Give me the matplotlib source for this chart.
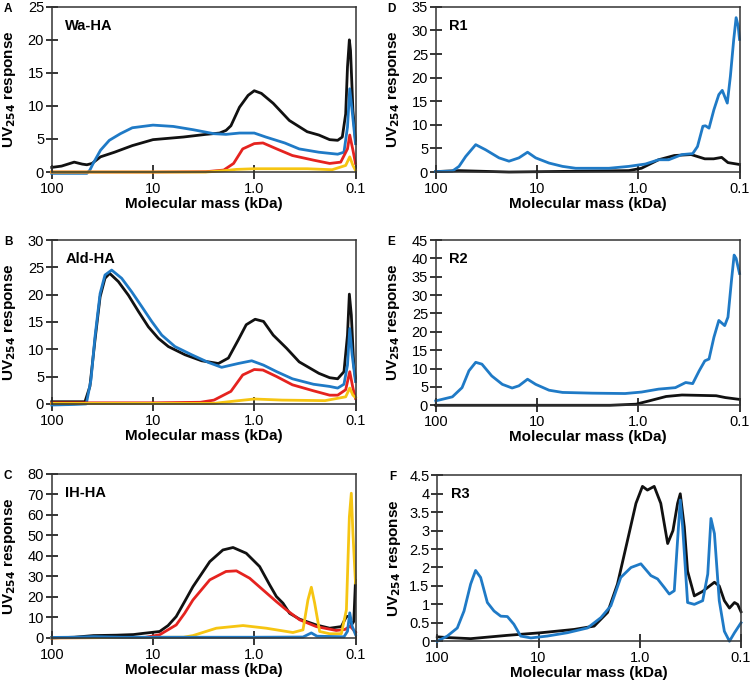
import matplotlib
matplotlib.use("Agg")
import matplotlib.pyplot as plt
from matplotlib.ticker import FixedLocator, FixedFormatter, FormatStrFormatter

plt.rcParams['font.family'] = ['Liberation Sans', 'DejaVu Sans']

BLACK = "#111111"
BLUE = "#1f7ac6"
RED = "#e5231f"
YELLOW = "#f6c512"

# ---- data (molecular mass in kDa, UV254 response) ----
# A: Wa-HA
wa_black_x = [100, 80, 60, 50, 45, 40, 33, 24, 16, 10, 5, 3, 2.2, 1.9, 1.7, 1.4, 1.15, 1.0, 0.85, 0.65,
              0.45, 0.3, 0.23, 0.18, 0.15, 0.135, 0.125, 0.12, 0.115, 0.112, 0.106, 0.1]
wa_black_y = [0.7, 0.9, 1.5, 1.2, 1.1, 1.3, 2.3, 3.0, 4.0, 4.9, 5.3, 5.7, 5.9, 6.3, 7.0, 9.8, 11.6, 12.3, 11.9, 10.4,
              7.8, 6.1, 5.6, 4.9, 4.8, 5.3, 8.8, 15.9, 20.0, 18.4, 9.3, 4.8]
wa_blue_x = [100, 60, 45, 42, 39, 33, 27, 21, 16, 10, 6.3, 4, 2.5, 1.9, 1.4, 1.0, 0.77, 0.5, 0.36,
             0.23, 0.15, 0.13, 0.12, 0.114, 0.108, 0.1]
wa_blue_y = [-0.2, -0.2, -0.2, 0.3, 1.3, 3.3, 4.8, 5.8, 6.7, 7.1, 6.9, 6.4, 5.8, 5.7, 5.9, 5.9, 5.3, 4.4, 3.5,
             3.0, 2.7, 3.0, 6.8, 12.6, 9.3, 4.3]
wa_red_x = [100, 10, 3, 2, 1.6, 1.3, 1.0, 0.82, 0.6, 0.42, 0.26, 0.18, 0.14, 0.12, 0.114, 0.106, 0.1]
wa_red_y = [0, 0, 0.05, 0.3, 1.3, 3.5, 4.3, 4.4, 3.5, 2.5, 1.8, 1.3, 1.5, 3.5, 5.6, 3.3, 1.3]
wa_yellow_x = [100, 3, 2, 1.5, 1.0, 0.5, 0.3, 0.17, 0.125, 0.114, 0.106, 0.1]
wa_yellow_y = [0, 0, 0.2, 0.4, 0.5, 0.5, 0.5, 0.35, 1.0, 2.3, 1.0, 0.25]

# B: Ald-HA
ald_black_x = [100, 60, 47, 42, 37.4, 33.3, 29.8, 26.8, 22, 17.5, 13.9, 11.1, 8.85, 7.05, 4.83, 3.31,
               2.26, 1.8, 1.44, 1.2, 0.98, 0.81, 0.65, 0.48, 0.36, 0.23, 0.18, 0.15, 0.13, 0.12,
               0.115, 0.11, 0.104, 0.1]
ald_black_y = [0.4, 0.4, 0.4, 3.2, 11.7, 19.6, 23.0, 23.9, 22.4, 19.9, 16.9, 14.1, 12.0, 10.5, 9.0, 7.9,
               7.4, 8.4, 11.7, 14.5, 15.5, 15.1, 12.6, 10.2, 7.7, 5.6, 4.8, 4.6, 5.9, 12.6,
               20.1, 16.3, 7.1, 4.7]
ald_blue_x = [100, 60, 45.6, 41, 37.4, 33.3, 29.8, 25.6, 20.4, 16.2, 12.9, 10.3, 8.2, 6.07, 4.15, 2.84,
              2.1, 1.44, 1.06, 0.81, 0.6, 0.42, 0.26, 0.18, 0.15, 0.13, 0.12, 0.114, 0.108, 0.1]
ald_blue_y = [-0.2, -0.1, 0, 4.4, 12.3, 20.2, 23.6, 24.5, 23.0, 20.5, 17.8, 15.1, 12.6, 10.5, 9.0, 7.6,
              6.7, 7.4, 7.9, 7.1, 5.9, 4.6, 3.6, 3.2, 2.9, 3.6, 7.1, 13.8, 9.0, 4.1]
ald_red_x = [100, 10, 3.4, 2.5, 1.7, 1.3, 1.0, 0.82, 0.6, 0.42, 0.26, 0.18, 0.15, 0.125, 0.114, 0.106, 0.1]
ald_red_y = [0.2, 0.2, 0.3, 0.7, 2.3, 5.3, 6.3, 6.2, 5.0, 3.5, 2.4, 1.6, 1.6, 2.6, 5.9, 2.9, 1.0]
ald_yellow_x = [100, 2.5, 1.6, 1.0, 0.53, 0.2, 0.125, 0.114, 0.106, 0.1]
ald_yellow_y = [0.1, 0.1, 0.5, 0.9, 0.7, 0.6, 1.3, 2.9, 1.6, 1.2]

# C: IH-HA
ih_black_x = [100, 60, 38.8, 22.9, 15.6, 12.4, 10.5, 8.6, 7.1, 5.9, 4.87, 4.03, 2.75, 2.04, 1.62, 1.2,
              0.885, 0.705, 0.605, 0.52, 0.448, 0.356, 0.244, 0.18, 0.138, 0.123, 0.116, 0.109, 0.104, 0.1]
ih_black_y = [0, 0.3, 1.1, 1.3, 1.6, 2.2, 2.6, 3.1, 6.0, 10.4, 17.7, 25.0, 37.2, 42.9, 44.1, 41.3,
              34.8, 25.9, 20.2, 16.9, 12.0, 9.1, 6.3, 4.7, 5.5, 10.4, 10.5, 6.5, 8, 28]
ih_red_x = [100, 12, 8.6, 5.9, 4.87, 4.03, 2.75, 1.9, 1.5, 1.11, 0.82, 0.605, 0.483, 0.356, 0.244, 0.155,
            0.127, 0.113, 0.1]
ih_red_y = [0, 0.2, 1.5, 6.3, 12, 18.5, 28.3, 32.4, 32.7, 29.1, 23.4, 17.7, 13.7, 8.8, 5.5, 3.6,
            4.1, 5.7, 2.8]
ih_yellow_x = [100, 5, 4.03, 2.37, 1.29, 0.76, 0.415, 0.33, 0.295, 0.273, 0.253, 0.226, 0.18, 0.138,
               0.123, 0.115, 0.11, 0.106, 0.1]
ih_yellow_y = [0, 0.3, 1.1, 4.7, 6.0, 4.7, 2.6, 3.9, 18.5, 24.7, 16.9, 3.1, 2.0, 2.0,
               13.7, 59, 70.6, 51, 26.8]
ih_blue_x = [100, 60, 38.8, 20, 1.0, 0.33, 0.273, 0.24, 0.13, 0.12, 0.114, 0.108, 0.1]
ih_blue_y = [0.2, 0.3, 0.6, 0.3, 0.3, 0.4, 2.4, 0.8, 0.5, 3.2, 12.2, 5.7, 1.6]

# D: R1
r1_blue_x = [100, 68.5, 58.9, 50.6, 40.3, 32.1, 23.7, 18.9, 15.1, 12.4, 10.3, 7.6, 5.6, 4.15, 2.84, 1.95,
             1.24, 0.85, 0.63, 0.5, 0.37, 0.29, 0.26, 0.23, 0.217, 0.2, 0.179, 0.16, 0.148, 0.132,
             0.123, 0.114, 0.108, 0.103, 0.1]
r1_blue_y = [0.1, 0.2, 1.2, 3.3, 5.8, 4.7, 3.0, 2.3, 3.0, 4.2, 3.0, 1.9, 1.2, 0.8, 0.8, 0.8,
             1.2, 1.7, 2.6, 2.6, 3.7, 3.9, 5.4, 9.7, 9.8, 9.3, 13.2, 16.4, 17.3, 14.6,
             20.3, 28.1, 32.7, 30.9, 28.1]
r1_black_x = [100, 58.9, 18.9, 1.24, 0.93, 0.63, 0.44, 0.3, 0.22, 0.18, 0.15, 0.13, 0.1]
r1_black_y = [0.1, 0.3, 0.0, 0.3, 0.8, 2.6, 3.5, 3.7, 2.8, 2.8, 3.1, 2.0, 1.6]

# E: R2
r2_blue_x = [100, 68.5, 55, 47, 40.3, 35, 28, 22, 17.6, 15.1, 12.4, 10.3, 7.6, 5.6, 2.84, 1.35,
             0.93, 0.63, 0.43, 0.34, 0.29, 0.25, 0.22, 0.2, 0.179, 0.16, 0.14, 0.13, 0.12, 0.113,
             0.108, 0.1]
r2_blue_y = [1.2, 2.3, 4.8, 9.4, 11.7, 11.2, 8.0, 5.7, 4.7, 5.3, 7.1, 5.7, 4.1, 3.5, 3.3, 3.2,
             3.6, 4.4, 4.8, 6.2, 5.9, 9.4, 12.1, 12.6, 18.5, 23.1, 21.7, 24, 34, 40.9,
             40, 35.9]
r2_black_x = [100, 10, 1.9, 1.05, 0.78, 0.53, 0.37, 0.25, 0.17, 0.138, 0.1]
r2_black_y = [0, 0, 0, 0.3, 1.2, 2.4, 2.8, 2.7, 2.6, 2.1, 1.6]

# F: R3
r3_blue_x = [100, 79.6, 63.4, 54.4, 46.8, 41.8, 37.3, 32.0, 27.5, 23.6, 20.3, 17.5, 15.0, 11.9, 8.2,
             5.2, 3.28, 2.42, 1.93, 1.54, 1.22, 0.975, 0.776, 0.667, 0.573, 0.511, 0.456, 0.423,
             0.398, 0.377, 0.337, 0.289, 0.239, 0.213, 0.198, 0.183, 0.164, 0.146, 0.130, 0.116, 0.1]
r3_blue_y = [0.0, 0.14, 0.36, 0.82, 1.55, 1.92, 1.73, 1.05, 0.82, 0.68, 0.67, 0.46, 0.14, 0.09, 0.14,
             0.23, 0.36, 0.64, 0.96, 1.73, 2.0, 2.1, 1.78, 1.69, 1.46, 1.28, 1.37, 2.74,
             3.83, 3.1, 1.05, 1.0, 1.1, 1.82, 3.33, 2.92, 1.1, 0.27, 0.0, 0.23, 0.5]
r3_black_x = [100, 79.6, 46.8, 20.3, 9.5, 4.45, 2.82, 2.08, 1.66, 1.32, 1.09, 0.94, 0.84, 0.72, 0.62,
              0.53, 0.47, 0.423, 0.398, 0.363, 0.337, 0.289, 0.24, 0.213, 0.183, 0.164, 0.146, 0.13,
              0.116, 0.108, 0.1]
r3_black_y = [0.12, 0.1, 0.07, 0.16, 0.23, 0.32, 0.41, 0.78, 1.55, 2.74, 3.74, 4.2, 4.1, 4.2, 3.74,
              2.65, 3.0, 3.74, 4.0, 3.1, 1.9, 1.23, 1.35, 1.46, 1.6, 1.5, 1.1, 0.9,
              1.05, 1.0, 0.8]

mass_ticks = [100, 10, 1.0, 0.1]
mass_labels = ["100", "10", "1.0", "0.1"]

panels = [
    # letter, title, axes rect, ymax, ystep, series
    ("A", "Wa-HA", [0.069, 0.747, 0.405, 0.243], 25, 5,
     [(wa_black_x, wa_black_y, BLACK), (wa_blue_x, wa_blue_y, BLUE),
      (wa_red_x, wa_red_y, RED), (wa_yellow_x, wa_yellow_y, YELLOW)]),
    ("B", "Ald-HA", [0.069, 0.406, 0.405, 0.241], 30, 5,
     [(ald_black_x, ald_black_y, BLACK), (ald_blue_x, ald_blue_y, BLUE),
      (ald_red_x, ald_red_y, RED), (ald_yellow_x, ald_yellow_y, YELLOW)]),
    ("C", "IH-HA", [0.069, 0.062, 0.405, 0.241], 80, 10,
     [(ih_black_x, ih_black_y, BLACK), (ih_red_x, ih_red_y, RED),
      (ih_yellow_x, ih_yellow_y, YELLOW), (ih_blue_x, ih_blue_y, BLUE)]),
    ("D", "R1", [0.581, 0.747, 0.405, 0.243], 35, 5,
     [(r1_black_x, r1_black_y, BLACK), (r1_blue_x, r1_blue_y, BLUE)]),
    ("E", "R2", [0.581, 0.404, 0.405, 0.243], 45, 5,
     [(r2_black_x, r2_black_y, BLACK), (r2_blue_x, r2_blue_y, BLUE)]),
    ("F", "R3", [0.583, 0.057, 0.405, 0.244], 4.5, 0.5,
     [(r3_black_x, r3_black_y, BLACK), (r3_blue_x, r3_blue_y, BLUE)]),
]

fig = plt.figure(figsize=(7.5, 6.8), dpi=100)

for letter, title, rect, ymax, ystep, series in panels:
    ax = fig.add_axes(rect)
    for xs, ys, col in series:
        ax.plot(xs, ys, color=col, linewidth=2.0, solid_joinstyle="round", clip_on=False)

    ax.set_xscale("log")
    ax.set_xlim(100, 0.1)
    ax.xaxis.set_major_locator(FixedLocator(mass_ticks))
    ax.xaxis.set_major_formatter(FixedFormatter(mass_labels))
    ax.xaxis.set_minor_locator(FixedLocator([]))

    ax.set_ylim(0, ymax)
    n = int(round(ymax / ystep))
    ax.set_yticks([i * ystep for i in range(n + 1)])
    ax.yaxis.set_major_formatter(FormatStrFormatter("%g"))

    ax.tick_params(axis="x", direction="inout", length=10, width=1.1, labelsize=10.5, pad=2)
    ax.tick_params(axis="y", direction="inout", length=9, width=1.1, labelsize=10.5, pad=1)
    for sp in ax.spines.values():
        sp.set_linewidth(1.1)
        sp.set_color("#333333")

    ax.set_xlabel("Molecular mass (kDa)", fontsize=11, fontweight="bold", labelpad=1)
    ax.set_ylabel(r"UV$_{\mathbf{254}}$ response", fontsize=11, fontweight="bold")
    ax.yaxis.set_label_coords(-0.112, 0.5)

    ax.text(0.045, 0.885, title, transform=ax.transAxes, fontsize=10.5,
            fontweight="bold", va="center", ha="left")

    fx = rect[0] - 0.064
    fig.text(fx, rect[1] + rect[3] - 0.003, letter, fontsize=8.5, fontweight="bold",
             ha="left", va="center")

fig.savefig("out.png", dpi=100)
